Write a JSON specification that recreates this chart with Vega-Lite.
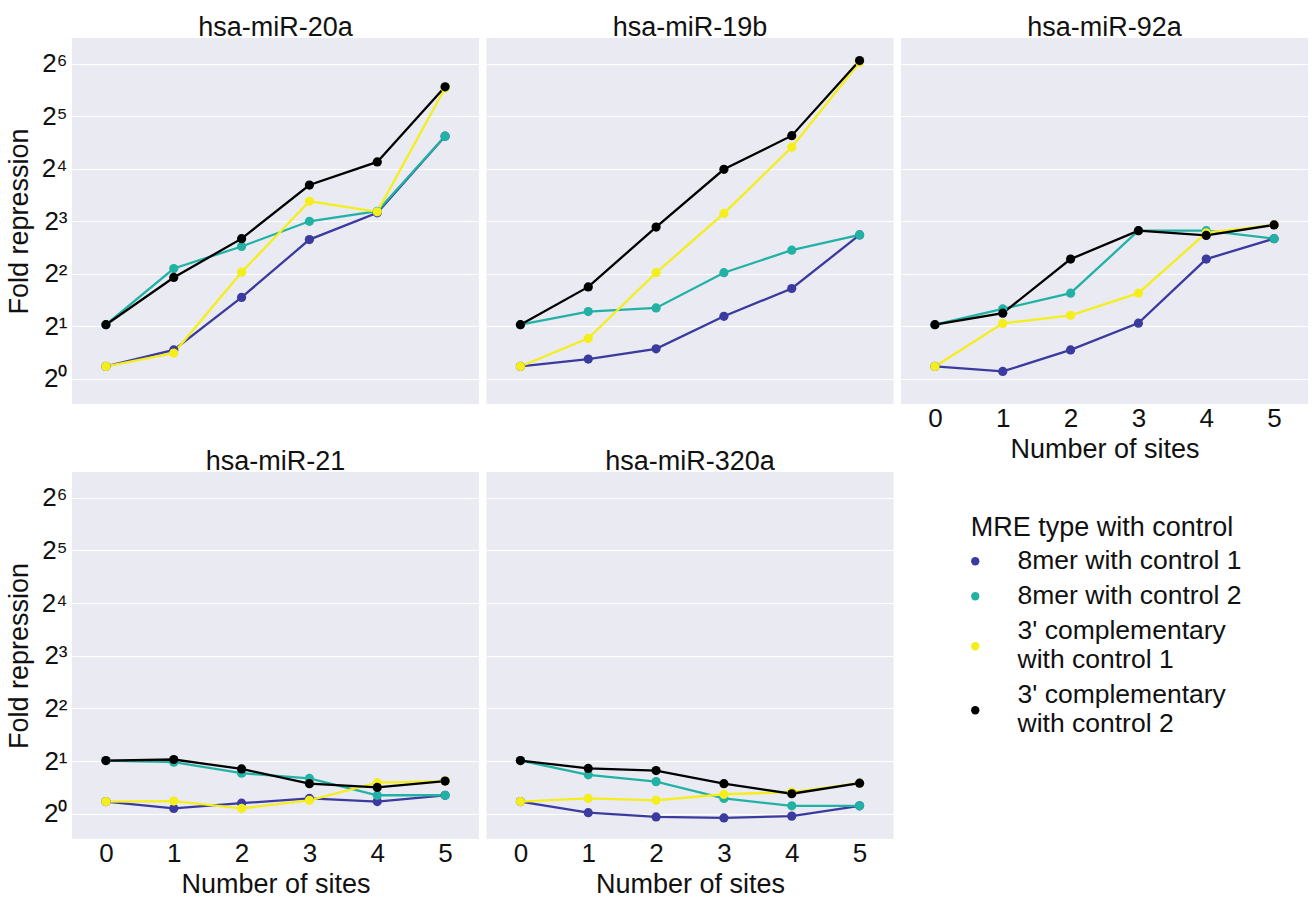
{
  "$schema": "https://vega.github.io/schema/vega-lite/v6.json",
  "background": "white",
  "padding": {"left": 5, "top": 14, "right": 0, "bottom": 0},
  "config": {
    "font": "Liberation Sans",
    "view": {"fill": "#EAEAF2", "stroke": null},
    "axis": {"labelFont": "Liberation Sans", "titleFont": "Liberation Sans", "labelFontSize": 26, "titleFontSize": 27, "labelColor": "#111111", "titleColor": "#111111", "titleFontWeight": "normal", "domain": false, "ticks": false, "gridColor": "white", "gridWidth": 1.2, "gridOpacity": 1},
    "title": {"font": "Liberation Sans", "fontSize": 27, "fontWeight": "normal", "color": "#111111", "offset": -4, "anchor": "middle"},
    "legend": {"orient": "none", "legendX": 890, "legendY": 477, "titleFont": "Liberation Sans", "labelFont": "Liberation Sans", "titleFontSize": 27, "titleFontWeight": "normal", "labelFontSize": 26.5, "titleColor": "#111111", "labelColor": "#111111", "titleAnchor": "middle", "titleLimit": 600, "titlePadding": 6, "symbolType": "circle", "symbolSize": 70, "symbolStrokeWidth": 0, "labelOffset": 29, "rowPadding": 8, "labelLimit": 400}
  },
  "datasets": {
    "mre": [
      {"mirna": "hsa-miR-20a", "mre": "8mer with control 1", "sites": 0, "fold": 1.177},
      {"mirna": "hsa-miR-20a", "mre": "8mer with control 1", "sites": 1, "fold": 1.464},
      {"mirna": "hsa-miR-20a", "mre": "8mer with control 1", "sites": 2, "fold": 2.928},
      {"mirna": "hsa-miR-20a", "mre": "8mer with control 1", "sites": 3, "fold": 6.28},
      {"mirna": "hsa-miR-20a", "mre": "8mer with control 1", "sites": 4, "fold": 8.94},
      {"mirna": "hsa-miR-20a", "mre": "8mer with control 1", "sites": 5, "fold": 24.6},
      {"mirna": "hsa-miR-20a", "mre": "8mer with control 2", "sites": 0, "fold": 2.042},
      {"mirna": "hsa-miR-20a", "mre": "8mer with control 2", "sites": 1, "fold": 4.287},
      {"mirna": "hsa-miR-20a", "mre": "8mer with control 2", "sites": 2, "fold": 5.736},
      {"mirna": "hsa-miR-20a", "mre": "8mer with control 2", "sites": 3, "fold": 8.0},
      {"mirna": "hsa-miR-20a", "mre": "8mer with control 2", "sites": 4, "fold": 9.13},
      {"mirna": "hsa-miR-20a", "mre": "8mer with control 2", "sites": 5, "fold": 24.6},
      {"mirna": "hsa-miR-20a", "mre": "3' complementary with control 1", "sites": 0, "fold": 1.177},
      {"mirna": "hsa-miR-20a", "mre": "3' complementary with control 1", "sites": 1, "fold": 1.404},
      {"mirna": "hsa-miR-20a", "mre": "3' complementary with control 1", "sites": 2, "fold": 4.084},
      {"mirna": "hsa-miR-20a", "mre": "3' complementary with control 1", "sites": 3, "fold": 10.41},
      {"mirna": "hsa-miR-20a", "mre": "3' complementary with control 1", "sites": 4, "fold": 9.06},
      {"mirna": "hsa-miR-20a", "mre": "3' complementary with control 1", "sites": 5, "fold": 46.5},
      {"mirna": "hsa-miR-20a", "mre": "3' complementary with control 2", "sites": 0, "fold": 2.042},
      {"mirna": "hsa-miR-20a", "mre": "3' complementary with control 2", "sites": 1, "fold": 3.81},
      {"mirna": "hsa-miR-20a", "mre": "3' complementary with control 2", "sites": 2, "fold": 6.36},
      {"mirna": "hsa-miR-20a", "mre": "3' complementary with control 2", "sites": 3, "fold": 12.91},
      {"mirna": "hsa-miR-20a", "mre": "3' complementary with control 2", "sites": 4, "fold": 17.51},
      {"mirna": "hsa-miR-20a", "mre": "3' complementary with control 2", "sites": 5, "fold": 47.2},

      {"mirna": "hsa-miR-19b", "mre": "8mer with control 1", "sites": 0, "fold": 1.177},
      {"mirna": "hsa-miR-19b", "mre": "8mer with control 1", "sites": 1, "fold": 1.297},
      {"mirna": "hsa-miR-19b", "mre": "8mer with control 1", "sites": 2, "fold": 1.485},
      {"mirna": "hsa-miR-19b", "mre": "8mer with control 1", "sites": 3, "fold": 2.282},
      {"mirna": "hsa-miR-19b", "mre": "8mer with control 1", "sites": 4, "fold": 3.294},
      {"mirna": "hsa-miR-19b", "mre": "8mer with control 1", "sites": 5, "fold": 6.68},
      {"mirna": "hsa-miR-19b", "mre": "8mer with control 2", "sites": 0, "fold": 2.042},
      {"mirna": "hsa-miR-19b", "mre": "8mer with control 2", "sites": 1, "fold": 2.428},
      {"mirna": "hsa-miR-19b", "mre": "8mer with control 2", "sites": 2, "fold": 2.549},
      {"mirna": "hsa-miR-19b", "mre": "8mer with control 2", "sites": 3, "fold": 4.056},
      {"mirna": "hsa-miR-19b", "mre": "8mer with control 2", "sites": 4, "fold": 5.464},
      {"mirna": "hsa-miR-19b", "mre": "8mer with control 2", "sites": 5, "fold": 6.68},
      {"mirna": "hsa-miR-19b", "mre": "3' complementary with control 1", "sites": 0, "fold": 1.177},
      {"mirna": "hsa-miR-19b", "mre": "3' complementary with control 1", "sites": 1, "fold": 1.705},
      {"mirna": "hsa-miR-19b", "mre": "3' complementary with control 1", "sites": 2, "fold": 4.056},
      {"mirna": "hsa-miR-19b", "mre": "3' complementary with control 1", "sites": 3, "fold": 8.877},
      {"mirna": "hsa-miR-19b", "mre": "3' complementary with control 1", "sites": 4, "fold": 21.26},
      {"mirna": "hsa-miR-19b", "mre": "3' complementary with control 1", "sites": 5, "fold": 65.34},
      {"mirna": "hsa-miR-19b", "mre": "3' complementary with control 2", "sites": 0, "fold": 2.042},
      {"mirna": "hsa-miR-19b", "mre": "3' complementary with control 2", "sites": 1, "fold": 3.364},
      {"mirna": "hsa-miR-19b", "mre": "3' complementary with control 2", "sites": 2, "fold": 7.413},
      {"mirna": "hsa-miR-19b", "mre": "3' complementary with control 2", "sites": 3, "fold": 15.89},
      {"mirna": "hsa-miR-19b", "mre": "3' complementary with control 2", "sites": 4, "fold": 24.76},
      {"mirna": "hsa-miR-19b", "mre": "3' complementary with control 2", "sites": 5, "fold": 66.72},

      {"mirna": "hsa-miR-92a", "mre": "8mer with control 1", "sites": 0, "fold": 1.177},
      {"mirna": "hsa-miR-92a", "mre": "8mer with control 1", "sites": 1, "fold": 1.102},
      {"mirna": "hsa-miR-92a", "mre": "8mer with control 1", "sites": 2, "fold": 1.464},
      {"mirna": "hsa-miR-92a", "mre": "8mer with control 1", "sites": 3, "fold": 2.085},
      {"mirna": "hsa-miR-92a", "mre": "8mer with control 1", "sites": 4, "fold": 4.857},
      {"mirna": "hsa-miR-92a", "mre": "8mer with control 1", "sites": 5, "fold": 6.36},
      {"mirna": "hsa-miR-92a", "mre": "8mer with control 2", "sites": 0, "fold": 2.042},
      {"mirna": "hsa-miR-92a", "mre": "8mer with control 2", "sites": 1, "fold": 2.514},
      {"mirna": "hsa-miR-92a", "mre": "8mer with control 2", "sites": 2, "fold": 3.095},
      {"mirna": "hsa-miR-92a", "mre": "8mer with control 2", "sites": 3, "fold": 7.062},
      {"mirna": "hsa-miR-92a", "mre": "8mer with control 2", "sites": 4, "fold": 7.062},
      {"mirna": "hsa-miR-92a", "mre": "8mer with control 2", "sites": 5, "fold": 6.36},
      {"mirna": "hsa-miR-92a", "mre": "3' complementary with control 1", "sites": 0, "fold": 1.177},
      {"mirna": "hsa-miR-92a", "mre": "3' complementary with control 1", "sites": 1, "fold": 2.078},
      {"mirna": "hsa-miR-92a", "mre": "3' complementary with control 1", "sites": 2, "fold": 2.313},
      {"mirna": "hsa-miR-92a", "mre": "3' complementary with control 1", "sites": 3, "fold": 3.095},
      {"mirna": "hsa-miR-92a", "mre": "3' complementary with control 1", "sites": 4, "fold": 6.869},
      {"mirna": "hsa-miR-92a", "mre": "3' complementary with control 1", "sites": 5, "fold": 7.621},
      {"mirna": "hsa-miR-92a", "mre": "3' complementary with control 2", "sites": 0, "fold": 2.042},
      {"mirna": "hsa-miR-92a", "mre": "3' complementary with control 2", "sites": 1, "fold": 2.378},
      {"mirna": "hsa-miR-92a", "mre": "3' complementary with control 2", "sites": 2, "fold": 4.857},
      {"mirna": "hsa-miR-92a", "mre": "3' complementary with control 2", "sites": 3, "fold": 7.062},
      {"mirna": "hsa-miR-92a", "mre": "3' complementary with control 2", "sites": 4, "fold": 6.634},
      {"mirna": "hsa-miR-92a", "mre": "3' complementary with control 2", "sites": 5, "fold": 7.621},

      {"mirna": "hsa-miR-21", "mre": "8mer with control 1", "sites": 0, "fold": 1.173},
      {"mirna": "hsa-miR-21", "mre": "8mer with control 1", "sites": 1, "fold": 1.072},
      {"mirna": "hsa-miR-21", "mre": "8mer with control 1", "sites": 2, "fold": 1.149},
      {"mirna": "hsa-miR-21", "mre": "8mer with control 1", "sites": 3, "fold": 1.223},
      {"mirna": "hsa-miR-21", "mre": "8mer with control 1", "sites": 4, "fold": 1.173},
      {"mirna": "hsa-miR-21", "mre": "8mer with control 1", "sites": 5, "fold": 1.275},
      {"mirna": "hsa-miR-21", "mre": "8mer with control 2", "sites": 0, "fold": 2.014},
      {"mirna": "hsa-miR-21", "mre": "8mer with control 2", "sites": 1, "fold": 1.972},
      {"mirna": "hsa-miR-21", "mre": "8mer with control 2", "sites": 2, "fold": 1.705},
      {"mirna": "hsa-miR-21", "mre": "8mer with control 2", "sites": 3, "fold": 1.591},
      {"mirna": "hsa-miR-21", "mre": "8mer with control 2", "sites": 4, "fold": 1.275},
      {"mirna": "hsa-miR-21", "mre": "8mer with control 2", "sites": 5, "fold": 1.275},
      {"mirna": "hsa-miR-21", "mre": "3' complementary with control 1", "sites": 0, "fold": 1.173},
      {"mirna": "hsa-miR-21", "mre": "3' complementary with control 1", "sites": 1, "fold": 1.181},
      {"mirna": "hsa-miR-21", "mre": "3' complementary with control 1", "sites": 2, "fold": 1.072},
      {"mirna": "hsa-miR-21", "mre": "3' complementary with control 1", "sites": 3, "fold": 1.193},
      {"mirna": "hsa-miR-21", "mre": "3' complementary with control 1", "sites": 4, "fold": 1.505},
      {"mirna": "hsa-miR-21", "mre": "3' complementary with control 1", "sites": 5, "fold": 1.537},
      {"mirna": "hsa-miR-21", "mre": "3' complementary with control 2", "sites": 0, "fold": 2.014},
      {"mirna": "hsa-miR-21", "mre": "3' complementary with control 2", "sites": 1, "fold": 2.042},
      {"mirna": "hsa-miR-21", "mre": "3' complementary with control 2", "sites": 2, "fold": 1.803},
      {"mirna": "hsa-miR-21", "mre": "3' complementary with control 2", "sites": 3, "fold": 1.485},
      {"mirna": "hsa-miR-21", "mre": "3' complementary with control 2", "sites": 4, "fold": 1.414},
      {"mirna": "hsa-miR-21", "mre": "3' complementary with control 2", "sites": 5, "fold": 1.537},

      {"mirna": "hsa-miR-320a", "mre": "8mer with control 1", "sites": 0, "fold": 1.173},
      {"mirna": "hsa-miR-320a", "mre": "8mer with control 1", "sites": 1, "fold": 1.014},
      {"mirna": "hsa-miR-320a", "mre": "8mer with control 1", "sites": 2, "fold": 0.959},
      {"mirna": "hsa-miR-320a", "mre": "8mer with control 1", "sites": 3, "fold": 0.946},
      {"mirna": "hsa-miR-320a", "mre": "8mer with control 1", "sites": 4, "fold": 0.969},
      {"mirna": "hsa-miR-320a", "mre": "8mer with control 1", "sites": 5, "fold": 1.110},
      {"mirna": "hsa-miR-320a", "mre": "8mer with control 2", "sites": 0, "fold": 2.014},
      {"mirna": "hsa-miR-320a", "mre": "8mer with control 2", "sites": 1, "fold": 1.670},
      {"mirna": "hsa-miR-320a", "mre": "8mer with control 2", "sites": 2, "fold": 1.526},
      {"mirna": "hsa-miR-320a", "mre": "8mer with control 2", "sites": 3, "fold": 1.223},
      {"mirna": "hsa-miR-320a", "mre": "8mer with control 2", "sites": 4, "fold": 1.110},
      {"mirna": "hsa-miR-320a", "mre": "8mer with control 2", "sites": 5, "fold": 1.110},
      {"mirna": "hsa-miR-320a", "mre": "3' complementary with control 1", "sites": 0, "fold": 1.173},
      {"mirna": "hsa-miR-320a", "mre": "3' complementary with control 1", "sites": 1, "fold": 1.223},
      {"mirna": "hsa-miR-320a", "mre": "3' complementary with control 1", "sites": 2, "fold": 1.193},
      {"mirna": "hsa-miR-320a", "mre": "3' complementary with control 1", "sites": 3, "fold": 1.292},
      {"mirna": "hsa-miR-320a", "mre": "3' complementary with control 1", "sites": 4, "fold": 1.329},
      {"mirna": "hsa-miR-320a", "mre": "3' complementary with control 1", "sites": 5, "fold": 1.495},
      {"mirna": "hsa-miR-320a", "mre": "3' complementary with control 2", "sites": 0, "fold": 2.014},
      {"mirna": "hsa-miR-320a", "mre": "3' complementary with control 2", "sites": 1, "fold": 1.815},
      {"mirna": "hsa-miR-320a", "mre": "3' complementary with control 2", "sites": 2, "fold": 1.766},
      {"mirna": "hsa-miR-320a", "mre": "3' complementary with control 2", "sites": 3, "fold": 1.485},
      {"mirna": "hsa-miR-320a", "mre": "3' complementary with control 2", "sites": 4, "fold": 1.301},
      {"mirna": "hsa-miR-320a", "mre": "3' complementary with control 2", "sites": 5, "fold": 1.495}
    ]
  },
  "spacing": -14,
  "vconcat": [
    {
      "spacing": 7.5,
      "hconcat": [
        {
          "width": 407, "height": 366,
          "title": "hsa-miR-20a",
          "data": {"name": "mre"},
          "transform": [{"filter": "datum.mirna === 'hsa-miR-20a'"}],
          "mark": {"type": "line", "strokeWidth": 2.3, "point": {"filled": true, "size": 85, "opacity": 1}},
          "encoding": {
            "x": {"field": "sites", "type": "ordinal", "scale": {"type": "point", "padding": 0.5}, "axis": null},
            "y": {"field": "fold", "type": "quantitative", "scale": {"type": "log", "base": 2, "domain": [0.717, 89.9], "nice": false}, "axis": {"values": [1, 2, 4, 8, 16, 32, 64], "labelExpr": "'2' + ['⁰','¹','²','³','⁴','⁵','⁶'][round(log(datum.value)/LN2)]", "title": "Fold repression", "labelPadding": 5, "titlePadding": 8, "grid": true}},
            "color": {"field": "mre", "type": "nominal", "scale": {"domain": ["8mer with control 1", "8mer with control 2", "3' complementary with control 1", "3' complementary with control 2"], "range": ["#3b3a9e", "#22b2a5", "#f4ee1c", "#000000"]}, "legend": {"title": "MRE type with control", "labelExpr": "indexof(datum.label, 'complementary') >= 0 ? [slice(datum.label, 0, 16), slice(datum.label, 17)] : datum.label", "encode": {"symbols": {"update": {"fill": {"scale": "color", "field": "value"}, "stroke": {"value": "transparent"}}}, "labels": {"update": {"dy": {"signal": "indexof(datum.value, 'complementary') >= 0 ? -15 : 0"}}}}}}
          }
        },
        {
          "width": 407, "height": 366,
          "title": "hsa-miR-19b",
          "data": {"name": "mre"},
          "transform": [{"filter": "datum.mirna === 'hsa-miR-19b'"}],
          "mark": {"type": "line", "strokeWidth": 2.3, "point": {"filled": true, "size": 85, "opacity": 1}},
          "encoding": {
            "x": {"field": "sites", "type": "ordinal", "scale": {"type": "point", "padding": 0.5}, "axis": null},
            "y": {"field": "fold", "type": "quantitative", "scale": {"type": "log", "base": 2, "domain": [0.717, 89.9], "nice": false}, "axis": {"values": [1, 2, 4, 8, 16, 32, 64], "labels": false, "title": null, "grid": true}},
            "color": {"field": "mre", "type": "nominal", "scale": {"domain": ["8mer with control 1", "8mer with control 2", "3' complementary with control 1", "3' complementary with control 2"], "range": ["#3b3a9e", "#22b2a5", "#f4ee1c", "#000000"]}, "legend": {"title": "MRE type with control", "labelExpr": "indexof(datum.label, 'complementary') >= 0 ? [slice(datum.label, 0, 16), slice(datum.label, 17)] : datum.label", "encode": {"symbols": {"update": {"fill": {"scale": "color", "field": "value"}, "stroke": {"value": "transparent"}}}, "labels": {"update": {"dy": {"signal": "indexof(datum.value, 'complementary') >= 0 ? -15 : 0"}}}}}}
          }
        },
        {
          "width": 407, "height": 366,
          "title": "hsa-miR-92a",
          "data": {"name": "mre"},
          "transform": [{"filter": "datum.mirna === 'hsa-miR-92a'"}],
          "mark": {"type": "line", "strokeWidth": 2.3, "point": {"filled": true, "size": 85, "opacity": 1}},
          "encoding": {
            "x": {"field": "sites", "type": "ordinal", "scale": {"type": "point", "padding": 0.5}, "axis": {"title": "Number of sites", "labelAngle": 0, "labelPadding": 1, "titlePadding": 5, "grid": false}},
            "y": {"field": "fold", "type": "quantitative", "scale": {"type": "log", "base": 2, "domain": [0.717, 89.9], "nice": false}, "axis": {"values": [1, 2, 4, 8, 16, 32, 64], "labels": false, "title": null, "grid": true}},
            "color": {"field": "mre", "type": "nominal", "scale": {"domain": ["8mer with control 1", "8mer with control 2", "3' complementary with control 1", "3' complementary with control 2"], "range": ["#3b3a9e", "#22b2a5", "#f4ee1c", "#000000"]}, "legend": {"title": "MRE type with control", "labelExpr": "indexof(datum.label, 'complementary') >= 0 ? [slice(datum.label, 0, 16), slice(datum.label, 17)] : datum.label", "encode": {"symbols": {"update": {"fill": {"scale": "color", "field": "value"}, "stroke": {"value": "transparent"}}}, "labels": {"update": {"dy": {"signal": "indexof(datum.value, 'complementary') >= 0 ? -15 : 0"}}}}}}
          }
        }
      ]
    },
    {
      "spacing": 7.5,
      "hconcat": [
        {
          "width": 407, "height": 367,
          "title": "hsa-miR-21",
          "data": {"name": "mre"},
          "transform": [{"filter": "datum.mirna === 'hsa-miR-21'"}],
          "mark": {"type": "line", "strokeWidth": 2.3, "point": {"filled": true, "size": 85, "opacity": 1}},
          "encoding": {
            "x": {"field": "sites", "type": "ordinal", "scale": {"type": "point", "padding": 0.5}, "axis": {"title": "Number of sites", "labelAngle": 0, "labelPadding": 1, "titlePadding": 5, "grid": false}},
            "y": {"field": "fold", "type": "quantitative", "scale": {"type": "log", "base": 2, "domain": [0.717, 89.9], "nice": false}, "axis": {"values": [1, 2, 4, 8, 16, 32, 64], "labelExpr": "'2' + ['⁰','¹','²','³','⁴','⁵','⁶'][round(log(datum.value)/LN2)]", "title": "Fold repression", "labelPadding": 5, "titlePadding": 8, "grid": true}},
            "color": {"field": "mre", "type": "nominal", "scale": {"domain": ["8mer with control 1", "8mer with control 2", "3' complementary with control 1", "3' complementary with control 2"], "range": ["#3b3a9e", "#22b2a5", "#f4ee1c", "#000000"]}, "legend": {"title": "MRE type with control", "labelExpr": "indexof(datum.label, 'complementary') >= 0 ? [slice(datum.label, 0, 16), slice(datum.label, 17)] : datum.label", "encode": {"symbols": {"update": {"fill": {"scale": "color", "field": "value"}, "stroke": {"value": "transparent"}}}, "labels": {"update": {"dy": {"signal": "indexof(datum.value, 'complementary') >= 0 ? -15 : 0"}}}}}}
          }
        },
        {
          "width": 407, "height": 367,
          "title": "hsa-miR-320a",
          "data": {"name": "mre"},
          "transform": [{"filter": "datum.mirna === 'hsa-miR-320a'"}],
          "mark": {"type": "line", "strokeWidth": 2.3, "point": {"filled": true, "size": 85, "opacity": 1}},
          "encoding": {
            "x": {"field": "sites", "type": "ordinal", "scale": {"type": "point", "padding": 0.5}, "axis": {"title": "Number of sites", "labelAngle": 0, "labelPadding": 1, "titlePadding": 5, "grid": false}},
            "y": {"field": "fold", "type": "quantitative", "scale": {"type": "log", "base": 2, "domain": [0.717, 89.9], "nice": false}, "axis": {"values": [1, 2, 4, 8, 16, 32, 64], "labels": false, "title": null, "grid": true}},
            "color": {"field": "mre", "type": "nominal", "scale": {"domain": ["8mer with control 1", "8mer with control 2", "3' complementary with control 1", "3' complementary with control 2"], "range": ["#3b3a9e", "#22b2a5", "#f4ee1c", "#000000"]}, "legend": {"title": "MRE type with control", "labelExpr": "indexof(datum.label, 'complementary') >= 0 ? [slice(datum.label, 0, 16), slice(datum.label, 17)] : datum.label", "encode": {"symbols": {"update": {"fill": {"scale": "color", "field": "value"}, "stroke": {"value": "transparent"}}}, "labels": {"update": {"dy": {"signal": "indexof(datum.value, 'complementary') >= 0 ? -15 : 0"}}}}}}
          }
        }
      ]
    }
  ]
}
